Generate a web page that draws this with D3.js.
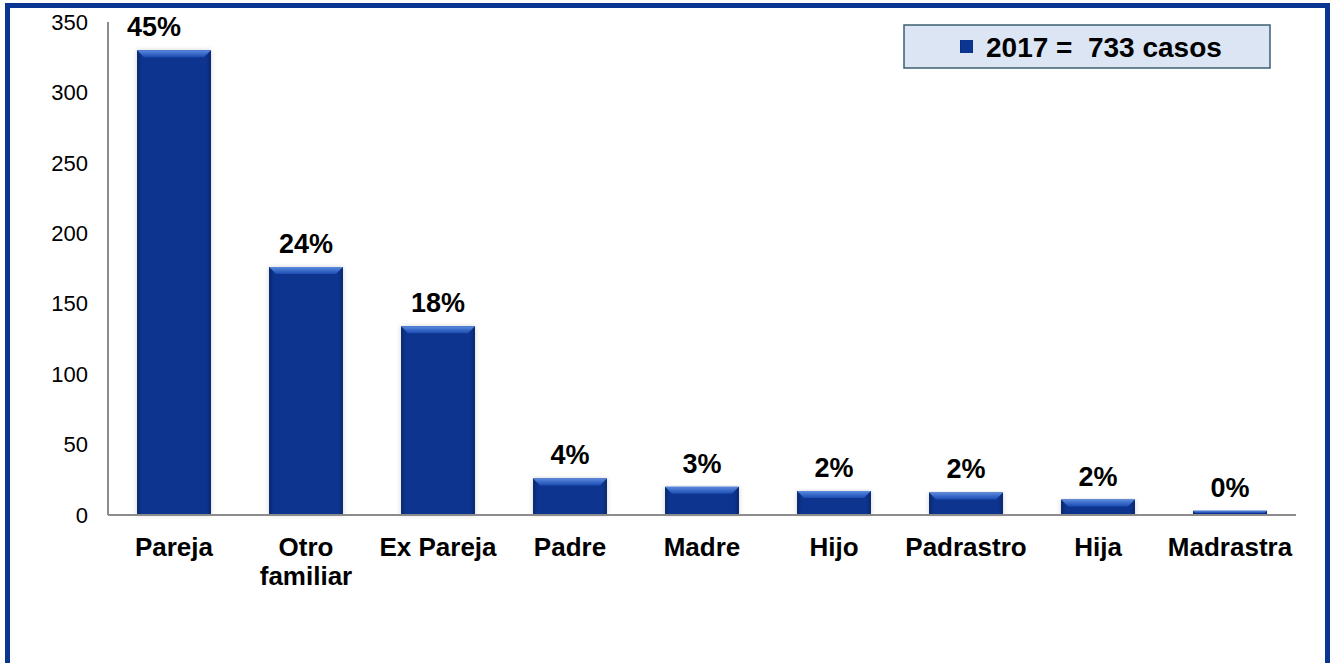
<!DOCTYPE html>
<html lang="en">
<head>
<meta charset="UTF-8">
<title>Casos 2017</title>
<style>
  body { margin: 0; background: #fff; }
  text { font-family: "Liberation Sans", Arial, sans-serif; }
  .ytick { font-size: 22px; fill: #000; }
  .xlab { font-size: 26px; font-weight: bold; fill: #000; }
  .pct { font-size: 27px; font-weight: bold; fill: #000; }
  .legend-text { font-size: 28px; font-weight: bold; fill: #000; white-space: pre; }
</style>
</head>
<body>
<div id="chart"></div>
<script src="https://cdnjs.cloudflare.com/ajax/libs/d3/7.8.5/d3.min.js"></script>
<script>
// data
var categories = ["Pareja", "Otro familiar", "Ex Pareja", "Padre", "Madre", "Hijo", "Padrastro", "Hija", "Madrastra"];
var values = [330, 176, 134, 26, 20, 17, 16, 11, 3];
var percents = ["45%", "24%", "18%", "4%", "3%", "2%", "2%", "2%", "0%"];
var yTicks = [0, 50, 100, 150, 200, 250, 300, 350];
var legendLabel = "2017 =  733 casos";

var W = 1334, H = 663;
var svg = d3.select("#chart").append("svg")
    .attr("width", W)
    .attr("height", H);

// outer frame (no bottom edge visible)
svg.append("path")
    .attr("d", "M7.5,663 L7.5,5.5 L1327.5,5.5 L1327.5,663")
    .attr("fill", "none")
    .attr("stroke", "#0a3590")
    .attr("stroke-width", 5);

var plotLeft = 108, plotRight = 1296, plotTop = 22, plotBottom = 515;

var x = d3.scaleBand()
    .domain(categories)
    .range([plotLeft, plotRight])
    .paddingInner(0.44)
    .paddingOuter(0.22);

var y = d3.scaleLinear()
    .domain([0, 350])
    .range([plotBottom, plotTop]);

// gradients for the bevelled bars
var defs = svg.append("defs");
var g = defs.append("linearGradient").attr("id", "barGrad")
    .attr("x1", "0").attr("x2", "1").attr("y1", "0").attr("y2", "0");
g.append("stop").attr("offset", "0").attr("stop-color", "#062670");
g.append("stop").attr("offset", "0.07").attr("stop-color", "#0b3590");
g.append("stop").attr("offset", "0.93").attr("stop-color", "#0b3590");
g.append("stop").attr("offset", "1").attr("stop-color", "#062670");
var gt = defs.append("linearGradient").attr("id", "topGrad")
    .attr("x1", "0").attr("x2", "0").attr("y1", "0").attr("y2", "1");
gt.append("stop").attr("offset", "0").attr("stop-color", "#5a8ae0");
gt.append("stop").attr("offset", "1").attr("stop-color", "#1c4cb0");
var shadow = defs.append("filter").attr("id", "shadow")
    .attr("x", "-20%").attr("y", "-5%").attr("width", "140%").attr("height", "110%");
shadow.append("feDropShadow")
    .attr("dx", 0).attr("dy", 0).attr("stdDeviation", 2.5)
    .attr("flood-color", "#000").attr("flood-opacity", 0.18);

// y axis
svg.append("line")
    .attr("x1", plotLeft).attr("x2", plotLeft)
    .attr("y1", plotTop).attr("y2", plotBottom)
    .attr("stroke", "#8c8c8c").attr("stroke-width", 2);

svg.append("g").selectAll("text")
    .data(yTicks)
    .join("text")
    .attr("class", "ytick")
    .attr("x", 88)
    .attr("y", function(d) { return y(d); })
    .attr("dy", "0.35em")
    .attr("text-anchor", "end")
    .text(function(d) { return d; });

// bars
var bars = svg.append("g").selectAll("g")
    .data(values)
    .join("g");

bars.append("rect")
    .attr("x", function(d, i) { return x(categories[i]); })
    .attr("y", function(d) { return y(d); })
    .attr("width", x.bandwidth())
    .attr("height", function(d) { return plotBottom - y(d); })
    .attr("fill", "url(#barGrad)")
    .attr("filter", "url(#shadow)");

bars.append("path")
    .attr("d", function(d, i) {
      var x0 = x(categories[i]), x1 = x0 + x.bandwidth(), y0 = y(d);
      var b = Math.min(7, (plotBottom - y0) / 2);
      return "M" + x0 + "," + y0 + " L" + x1 + "," + y0 +
        " L" + (x1 - b) + "," + (y0 + b) + " L" + (x0 + b) + "," + (y0 + b) + "Z";
    })
    .attr("fill", "url(#topGrad)");

// x axis
svg.append("line")
    .attr("x1", plotLeft).attr("x2", plotRight)
    .attr("y1", plotBottom).attr("y2", plotBottom)
    .attr("stroke", "#8c8c8c").attr("stroke-width", 2);

// percentage labels (the first one sits a little left of its bar)
bars.append("text")
    .attr("class", "pct")
    .attr("x", function(d, i) { return x(categories[i]) + x.bandwidth() / 2; })
    .attr("y", function(d) { return y(d) - 14; })
    .attr("dx", function(d, i) { return i === 0 ? -20 : 0; })
    .attr("text-anchor", "middle")
    .text(function(d, i) { return percents[i]; });

// category labels
svg.append("g").selectAll("text")
    .data(categories)
    .join("text")
    .attr("class", "xlab")
    .attr("text-anchor", "middle")
    .attr("x", function(d) { return x(d) + x.bandwidth() / 2; })
    .attr("y", 556)
    .each(function(d) {
      var t = d3.select(this);
      var parts = d === "Otro familiar" ? ["Otro", "familiar"] : [d];
      parts.forEach(function(p, k) {
        t.append("tspan")
          .attr("x", x(d) + x.bandwidth() / 2)
          .attr("dy", k === 0 ? 0 : 29)
          .text(p);
      });
    });

// legend
var lg = svg.append("g");
lg.append("rect")
    .attr("x", 904).attr("y", 25)
    .attr("width", 366).attr("height", 43)
    .attr("fill", "#dbe5f3")
    .attr("stroke", "#3d5f72")
    .attr("stroke-width", 1.5);
lg.append("rect")
    .attr("x", 960).attr("y", 40)
    .attr("width", 13).attr("height", 13)
    .attr("fill", "url(#barGrad)");
lg.append("text")
    .attr("class", "legend-text")
    .attr("x", 986).attr("y", 57)
    .text(legendLabel);
</script>
</body>
</html>
